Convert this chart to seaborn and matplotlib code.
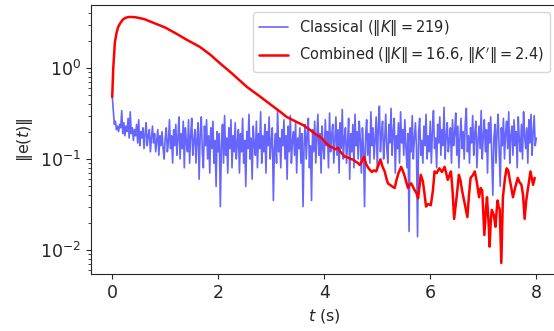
import numpy as np
import pandas as pd
import seaborn as sns
import matplotlib
matplotlib.use('Agg')
import matplotlib.pyplot as plt

sns.set_style('ticks')

# classical controller error, sampled every 0.02 s from t = 0 to 8 s
dt_classical = 0.02
err_classical = [
    0.50, 0.34, 0.24, 0.26, 0.21, 0.23, 0.20, 0.24, 0.22, 0.34, 0.19, 0.25, 0.18, 0.23, 0.20, 0.28, 0.17, 0.33, 0.19, 0.22,
    0.16, 0.21, 0.18, 0.24, 0.15, 0.27, 0.14, 0.20, 0.17, 0.22, 0.13, 0.19, 0.25, 0.14, 0.18, 0.21, 0.12, 0.17, 0.23, 0.15,
    0.19, 0.12, 0.16, 0.21, 0.11, 0.18, 0.14, 0.20, 0.13, 0.10, 0.17, 0.22, 0.12, 0.15, 0.27, 0.13, 0.18, 0.09, 0.21, 0.14,
    0.24, 0.11, 0.17, 0.29, 0.10, 0.19, 0.13, 0.26, 0.08, 0.22, 0.15, 0.12, 0.27, 0.09, 0.18, 0.28, 0.11, 0.16, 0.21, 0.09,
    0.17, 0.25, 0.06, 0.19, 0.29, 0.12, 0.08, 0.23, 0.14, 0.27, 0.10, 0.18, 0.07, 0.22, 0.13, 0.26, 0.09, 0.16, 0.05, 0.20,
    0.12, 0.19, 0.03, 0.14, 0.24, 0.09, 0.30, 0.11, 0.17, 0.07, 0.22, 0.13, 0.27, 0.08, 0.18, 0.12, 0.25, 0.10, 0.15, 0.21,
    0.07, 0.19, 0.12, 0.28, 0.09, 0.16, 0.05, 0.20, 0.13, 0.31, 0.10, 0.17, 0.06, 0.23, 0.14, 0.11, 0.26, 0.08, 0.19, 0.13,
    0.33, 0.09, 0.18, 0.12, 0.24, 0.07, 0.20, 0.14, 0.29, 0.10, 0.16, 0.22, 0.035, 0.13, 0.19, 0.09, 0.34, 0.12, 0.17, 0.08,
    0.21, 0.14, 0.27, 0.10, 0.18, 0.06, 0.23, 0.12, 0.30, 0.09, 0.16, 0.20, 0.11, 0.25, 0.07, 0.17, 0.13, 0.22, 0.09, 0.19,
    0.03, 0.15, 0.24, 0.10, 0.18, 0.28, 0.08, 0.14, 0.035, 0.21, 0.12, 0.26, 0.09, 0.17, 0.31, 0.11, 0.19, 0.07, 0.23, 0.13,
    0.10, 0.27, 0.14, 0.20, 0.08, 0.32, 0.12, 0.18, 0.24, 0.09, 0.16, 0.29, 0.11, 0.21, 0.07, 0.25, 0.13, 0.35, 0.10, 0.17,
    0.22, 0.09, 0.15, 0.28, 0.06, 0.19, 0.12, 0.24, 0.08, 0.31, 0.14, 0.20, 0.10, 0.26, 0.16, 0.07, 0.22, 0.13, 0.03, 0.18,
    0.27, 0.11, 0.19, 0.09, 0.33, 0.14, 0.22, 0.10, 0.17, 0.29, 0.08, 0.23, 0.38, 0.12, 0.19, 0.26, 0.10, 0.16, 0.31, 0.13,
    0.09, 0.24, 0.15, 0.36, 0.11, 0.20, 0.28, 0.07, 0.18, 0.13, 0.25, 0.09, 0.33, 0.15, 0.21, 0.11, 0.27, 0.14, 0.08, 0.19,
    0.016, 0.22, 0.12, 0.30, 0.10, 0.17, 0.25, 0.13, 0.014, 0.20, 0.28, 0.11, 0.16, 0.09, 0.23, 0.14, 0.31, 0.10, 0.18, 0.12,
    0.26, 0.09, 0.20, 0.34, 0.13, 0.17, 0.08, 0.24, 0.15, 0.29, 0.11, 0.21, 0.14, 0.37, 0.10, 0.18, 0.25, 0.12, 0.16, 0.22,
    0.09, 0.27, 0.14, 0.19, 0.32, 0.11, 0.23, 0.08, 0.17, 0.28, 0.13, 0.20, 0.10, 0.25, 0.36, 0.12, 0.18, 0.09, 0.22, 0.15,
    0.30, 0.11, 0.19, 0.26, 0.08, 0.16, 0.23, 0.13, 0.34, 0.10, 0.18, 0.27, 0.12, 0.21, 0.07, 0.25, 0.15, 0.29, 0.11, 0.04,
    0.17, 0.24, 0.09, 0.20, 0.31, 0.12, 0.05, 0.22, 0.14, 0.28, 0.10, 0.19, 0.26, 0.13, 0.33, 0.09, 0.18, 0.23, 0.11, 0.27,
    0.14, 0.20, 0.08, 0.29, 0.16, 0.12, 0.24, 0.10, 0.33, 0.18, 0.13, 0.22, 0.09, 0.27, 0.15, 0.31, 0.11, 0.19, 0.30, 0.14,
    0.17,
]
t_classical = np.arange(len(err_classical)) * dt_classical

# combined controller error
t_combined = [
    0.00, 0.02, 0.05, 0.08, 0.11, 0.15, 0.20, 0.25, 0.30, 0.35, 0.45, 0.60, 0.80, 1.00, 1.09, 1.20,
    1.40, 1.65, 1.85, 2.03, 2.25, 2.54, 2.80, 3.04, 3.20, 3.29, 3.45, 3.60, 3.75, 3.86,
    3.92, 3.97, 4.02, 4.06, 4.10, 4.15, 4.20, 4.26, 4.30, 4.35, 4.39, 4.44, 4.50, 4.55, 4.60, 4.64,
    4.67, 4.71, 4.75, 4.79, 4.83, 4.86, 4.90, 4.94, 4.98, 5.02, 5.06, 5.10, 5.14, 5.17, 5.20, 5.24,
    5.28, 5.33, 5.36, 5.40, 5.45, 5.49, 5.52, 5.55, 5.58, 5.61, 5.64, 5.67, 5.70, 5.74, 5.77, 5.80,
    5.82, 5.86, 5.89, 5.92, 5.96, 6.01, 6.05, 6.08, 6.12, 6.17, 6.22, 6.27, 6.30, 6.33, 6.36, 6.39,
    6.42, 6.45, 6.49, 6.54, 6.57, 6.60, 6.65, 6.70, 6.73, 6.76, 6.80, 6.84, 6.88, 6.92, 6.95, 6.98,
    7.00, 7.02, 7.05, 7.07, 7.10, 7.12, 7.14, 7.16, 7.20, 7.23, 7.25, 7.27, 7.29, 7.31, 7.33, 7.34,
    7.36, 7.37, 7.41, 7.44, 7.47, 7.50, 7.53, 7.56, 7.60, 7.65, 7.68, 7.72, 7.75, 7.78, 7.81, 7.84,
    7.87, 7.89, 7.92, 7.94, 7.97,
]
err_combined = [
    0.48, 1.00, 1.90, 2.40, 2.80, 3.10, 3.40, 3.55, 3.62, 3.64, 3.60, 3.45, 3.10, 2.78, 2.60, 2.40,
    2.05, 1.71, 1.40, 1.13, 0.88, 0.62, 0.48, 0.376, 0.32, 0.29, 0.26, 0.236, 0.205, 0.183,
    0.175, 0.165, 0.152, 0.145, 0.137, 0.135, 0.128, 0.132, 0.121, 0.112, 0.106, 0.104, 0.100, 0.098, 0.093, 0.090,
    0.086, 0.094, 0.106, 0.088, 0.080, 0.076, 0.072, 0.075, 0.073, 0.085, 0.099, 0.082, 0.073, 0.062, 0.054, 0.052,
    0.050, 0.048, 0.058, 0.070, 0.082, 0.072, 0.064, 0.055, 0.048, 0.052, 0.054, 0.050, 0.046, 0.042, 0.037, 0.052,
    0.067, 0.057, 0.042, 0.030, 0.032, 0.031, 0.045, 0.073, 0.070, 0.079, 0.072, 0.082, 0.070, 0.059, 0.066, 0.073,
    0.045, 0.022, 0.035, 0.067, 0.058, 0.045, 0.032, 0.023, 0.040, 0.062, 0.066, 0.073, 0.055, 0.038, 0.048, 0.045,
    0.025, 0.0146, 0.028, 0.038, 0.020, 0.0109, 0.020, 0.0276, 0.024, 0.018, 0.026, 0.035, 0.030, 0.028, 0.012, 0.0072,
    0.022, 0.038, 0.062, 0.079, 0.075, 0.059, 0.048, 0.038, 0.048, 0.062, 0.056, 0.052, 0.040, 0.022, 0.035, 0.046,
    0.060, 0.073, 0.060, 0.052, 0.062,
]

df_c = pd.DataFrame({'t': t_classical, 'e': err_classical})
df_k = pd.DataFrame({'t': t_combined, 'e': err_combined})

fig = plt.figure(figsize=(5.54, 3.31), dpi=100)
ax = fig.add_axes([91/554, 57/331, 466.5/554, 269/331])

sns.lineplot(data=df_c, x='t', y='e', ax=ax, color='blue', alpha=0.6, lw=1.2,
             estimator=None, label=r'Classical ($\|K\| = 219$)')
sns.lineplot(data=df_k, x='t', y='e', ax=ax, color='red', lw=1.8,
             estimator=None, label=r"Combined ($\|K\| = 16.6$, $\|K'\| = 2.4$)")

ax.set_yscale('log')
ax.set_xlim(-0.4, 8.4)
ax.set_ylim(0.00545, 4.92)
ax.set_xticks([0, 2, 4, 6, 8])
ax.tick_params(labelsize=12.5)
ax.set_xlabel(r'$t$ (s)', fontsize=11.5)
ax.set_ylabel(r'$\|\mathrm{e}(t)\|$', fontsize=11.5)
ax.legend(loc='upper right', fontsize=10.5)

fig.savefig('out.png', dpi=100)
